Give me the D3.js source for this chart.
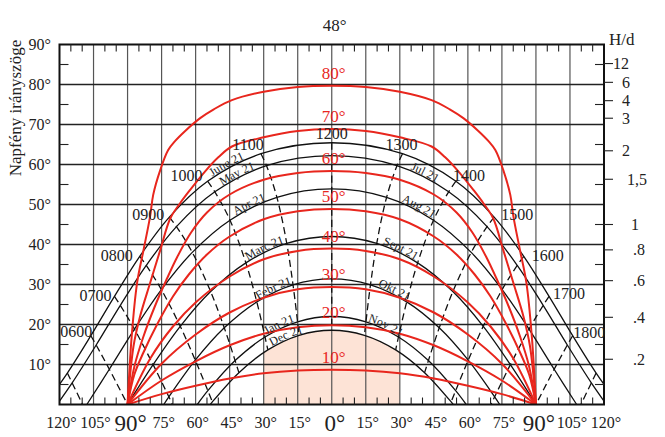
<!DOCTYPE html>
<html><head><meta charset="utf-8">
<script src="https://cdn.jsdelivr.net/npm/d3@7"></script>
<style>
body{margin:0;background:#fff}
svg{display:block}
</style>
</head><body>
<svg id="chart" width="665" height="437" font-family="'Liberation Serif','Times New Roman','DejaVu Serif',serif"></svg>
<script>
// ---------------- DATA ----------------
const latitudeTitle = "48°";
const yAxisTitle = "Napfény irányszöge";
const ratioTitle = "H/d";
const azimuthTicks = [-120,-105,-90,-75,-60,-45,-30,-15,0,15,30,45,60,75,90,105,120];
const azimuthLabels = ["120°","105°","90°","75°","60°","45°","30°","15°","0°","15°","30°","45°","60°","75°","90°","105°","120°"];
const altitudeTicks = [10,20,30,40,50,60,70,80,90];
const altitudeLabels = ["10°","20°","30°","40°","50°","60°","70°","80°","90°"];
const ratioLabels = ["12","6","4","3","2","1,5","1",".8",".6",".4",".2"];
const ratioAltitudes = [85.24,80.54,75.96,71.57,63.43,56.31,45,38.66,30.96,21.80,11.31];

// Sun paths, morning half: [hour, azimuth (east negative), altitude]
const dateNamesAM = ["June 21","May 21","Apr 21","Marc 21","Febr 21","Jan 21","Dec 21"];
const dateNamesPM = ["","Jul 21","Aug 21","Sept 21","Okt 21","Nov 21",""];
const pathJune = [[4.08,-126.48,0],[5,-116.54,7.86],[6,-106.18,17.20],[7,-95.78,27.03],[8,-84.63,37.05],[9,-71.58,46.86],[10,-54.74,55.82],[11,-31.19,62.69],[12,0,65.44]];
const pathMay  = [[4.39,-121.07,0],[5,-114.42,5.40],[6,-103.83,14.87],[7,-93.19,24.78],[8,-81.76,34.79],[9,-68.45,44.48],[10,-51.53,53.17],[11,-28.75,59.69],[12,0,62.20]];
const pathApr  = [[5.10,-107.95,0],[6,-98.03,8.81],[7,-86.96,18.83],[8,-75.10,28.73],[9,-61.47,38.04],[10,-44.85,46.08],[11,-24.17,51.79],[12,0,53.90]];
const pathMar  = [[6,-90,0],[7,-78.74,9.97],[8,-66.78,19.55],[9,-53.38,28.24],[10,-37.85,35.41],[11,-19.83,40.27],[12,0,42.00]];
const pathFeb  = [[6.80,-74.04,0],[7,-71.80,1.92],[8,-60.16,11.08],[9,-47.38,19.17],[10,-33.04,25.65],[11,-17.07,29.91],[12,0,31.40]];
const pathJan  = [[7.59,-59.26,0],[8,-54.61,3.45],[9,-42.60,10.98],[10,-29.41,16.88],[11,-15.07,20.68],[12,0,22.00]];
const pathDec  = [[7.92,-53.52,0],[8,-52.62,0.65],[9,-40.92,7.96],[10,-28.17,13.65],[11,-14.40,17.30],[12,0,18.56]];
const sunPaths = [pathJune,pathMay,pathApr,pathMar,pathFeb,pathJan,pathDec];

// hour lines reach the horizon at: [hour, azimuth]
const hourHorizon = [[5,-109.83],[7,-70.17]];
const hourLines = [5,6,7,8,9,10,11,12,13,14,15,16,17,18,19];
const hourLabels = ["0600","0700","0800","0900","1000","1100","1200","1300","1400","1500","1600","1700","1800"];
const hourLabelHours = [6,7,8,9,10,11,12,13,14,15,16,17,18];

// Red shading-angle curves, left half: [azimuth, altitude]
const shadeNames = ["80°","70°","60°","50°","40°","30°","20°","10°"];
const shade80 = [[0,79.7],[-15,79.4],[-30,78.2],[-44,76.1],[-52,73.8],[-58,71.6],[-64.6,68.4],[-69,65.9],[-72.1,63.6],[-75.6,58.6],[-78.7,52.4],[-80.1,46.9],[-83,38.5],[-85.8,30.4],[-88.2,16.9],[-90,0]];
const shade70 = [[0,68.9],[-15,68.4],[-30,66.8],[-44,64.5],[-50,61.8],[-55.8,58.3],[-62.5,53.6],[-67,50.2],[-71.2,46.5],[-75.6,38.6],[-80.1,30.3],[-84.5,22],[-87.4,14.5],[-90,0]];
const shade60 = [[0,58.4],[-15,57.9],[-30,56.2],[-45,52.5],[-55,48],[-62,43],[-68,37],[-73,31],[-78,24.5],[-83,17],[-87,9.5],[-90,0]];
const shade50 = [[0,48.9],[-15,48.3],[-30,46.3],[-45,42],[-55,37.5],[-63,32.5],[-70,27],[-77,20],[-83,13],[-87,7.5],[-90,0]];
const shade40 = [[0,39.0],[-15,38.4],[-30,36.3],[-45,32],[-60,25.5],[-70,19.5],[-80,11.5],[-90,0]];
const shade30 = [[0,29.4],[-15,28.8],[-30,26.7],[-45,23],[-60,17.5],[-75,10.2],[-90,0]];
const shade20 = [[0,19.8],[-15,19.3],[-30,17.7],[-45,14.8],[-60,10.8],[-75,6],[-90,0]];
const shade10 = [[0,8.7],[-15,8.5],[-30,7.8],[-45,6.5],[-60,4.7],[-75,2.6],[-90,0]];
const shadeCurves = [shade80,shade70,shade60,shade50,shade40,shade30,shade20,shade10];

// shaded window band (azimuth range) under the Dec 21 path
const bandAzimuth = [-30,30];

// ---------------- LAYOUT ----------------
const svg = d3.select("#chart");
const x = d3.scaleLinear().domain([-120,120]).range([59.5,604]);
const y = d3.scaleLinear().domain([0,90]).range([404.5,44.5]);
const X0 = x(-120), X1 = x(120), Y0 = y(0), Y1 = y(90);
const RED = "#e8261d", INK = "#222";

const defs = svg.append("defs");
defs.append("clipPath").attr("id","plot").append("rect")
  .attr("x",X0).attr("y",Y1).attr("width",X1-X0).attr("height",Y0-Y1);
defs.append("clipPath").attr("id","band").append("rect")
  .attr("x",x(bandAzimuth[0])).attr("y",Y1).attr("width",x(bandAzimuth[1])-x(bandAzimuth[0])).attr("height",Y0-Y1);

const smooth = d3.line().x(d=>x(d[0])).y(d=>y(d[1])).curve(d3.curveCatmullRom.alpha(0.5));

function fullPath(p){
  const am = p.map(d=>[d[1],d[2]]);
  const pm = p.slice(0,-1).reverse().map(d=>[-d[1],d[2]]);
  return am.concat(pm);
}
const fullPaths = sunPaths.map(fullPath);

// salmon band
svg.append("g").attr("clip-path","url(#band)")
  .append("path")
  .datum(fullPaths[6])
  .attr("d", d3.area().x(d=>x(d[0])).y0(Y0).y1(d=>y(d[1])).curve(d3.curveCatmullRom.alpha(0.5)))
  .attr("fill","#fde3d6");

// grid
const grid = svg.append("g");
grid.selectAll("line.v").data(azimuthTicks.filter(v=>Math.abs(v)<120)).join("line")
  .attr("x1",d=>x(d)).attr("x2",d=>x(d)).attr("y1",Y1).attr("y2",Y0)
  .attr("stroke","#555").attr("stroke-width",1.2);
grid.selectAll("line.h").data(altitudeTicks.filter(v=>v<90)).join("line")
  .attr("x1",X0).attr("x2",X1).attr("y1",d=>y(d)).attr("y2",d=>y(d))
  .attr("stroke","#222").attr("stroke-width",1.3);

const plot = svg.append("g").attr("clip-path","url(#plot)");

plot.selectAll("path.sun").data(fullPaths).join("path")
  .attr("d",smooth).attr("fill","none").attr("stroke","#111").attr("stroke-width",1.3);

function hourPoints(h){
  const am = h<=12 ? h : 24-h, sign = h<=12 ? 1 : -1;
  const pts = [];
  sunPaths.forEach(p=>{ const q = p.find(d=>d[0]===am); if(q) pts.push([sign*q[1],q[2]]); });
  const hz = hourHorizon.find(d=>d[0]===am);
  if(hz) pts.push([sign*hz[1],0]);
  return pts;
}
plot.selectAll("path.hour").data(hourLines.map(hourPoints)).join("path")
  .attr("d",smooth).attr("fill","none").attr("stroke","#111").attr("stroke-width",1.3)
  .attr("stroke-dasharray","7,4");

const fullShade = shadeCurves.map(c=>c.slice().reverse().concat(c.slice(1).map(d=>[-d[0],d[1]])));
plot.selectAll("path.shade").data(fullShade).join("path")
  .attr("d",smooth).attr("fill","none").attr("stroke",RED).attr("stroke-width",2);

svg.selectAll("text.shade").data(shadeCurves).join("text")
  .attr("x",x(0)+2).attr("y",d=>y(d[0][1])-7)
  .attr("text-anchor","middle").attr("font-size",17).attr("fill",RED)
  .text((d,i)=>shadeNames[i]);

// frame
svg.append("rect").attr("x",X0).attr("y",Y1).attr("width",X1-X0).attr("height",Y0-Y1)
  .attr("fill","none").attr("stroke","#111").attr("stroke-width",2);

// ticks
const minorAz = d3.range(-115,120,5).filter(v=>v%15!==0);
svg.selectAll("line.tb").data(minorAz).join("line")
  .attr("x1",d=>x(d)).attr("x2",d=>x(d)).attr("y1",Y0).attr("y2",Y0-7)
  .attr("stroke",INK).attr("stroke-width",1.1);
svg.selectAll("line.tt").data(minorAz).join("line")
  .attr("x1",d=>x(d)).attr("x2",d=>x(d)).attr("y1",Y1).attr("y2",Y1+7)
  .attr("stroke",INK).attr("stroke-width",1.1);
const minorAlt = d3.range(5,90,10);
svg.selectAll("line.tl").data(minorAlt).join("line")
  .attr("x1",X0).attr("x2",X0+9).attr("y1",d=>y(d)).attr("y2",d=>y(d))
  .attr("stroke",INK).attr("stroke-width",1.1);
svg.selectAll("line.tr").data(minorAlt).join("line")
  .attr("x1",X1-9).attr("x2",X1).attr("y1",d=>y(d)).attr("y2",d=>y(d))
  .attr("stroke",INK).attr("stroke-width",1.1);
svg.selectAll("line.hd").data(ratioAltitudes).join("line")
  .attr("x1",X1).attr("x2",X1+9).attr("y1",d=>y(d)).attr("y2",d=>y(d))
  .attr("stroke",INK).attr("stroke-width",1.1);

// axis labels
const big = d=>Math.abs(d)===90||d===0;
svg.selectAll("text.az").data(azimuthTicks).join("text")
  .attr("x",d=>x(d)+(big(d)?3:2)).attr("y",d=>big(d)?431:428)
  .attr("text-anchor","middle")
  .attr("font-size",d=>big(d)?23:16).attr("fill",INK)
  .text((d,i)=>azimuthLabels[i]);
svg.selectAll("text.alt").data(altitudeTicks).join("text")
  .attr("x",51).attr("y",d=>y(d)+5.5).attr("text-anchor","end")
  .attr("font-size",16).attr("fill",INK)
  .text((d,i)=>altitudeLabels[i]);
const ratioDx = [9,18,18,18,18,23,27,29,29,29,29];
svg.selectAll("text.hd").data(ratioAltitudes).join("text")
  .attr("x",(d,i)=>X1+ratioDx[i]).attr("y",d=>y(d)+5.5)
  .attr("font-size",16).attr("fill",INK)
  .text((d,i)=>ratioLabels[i]);
svg.append("text").attr("x",X1+5).attr("y",45).attr("font-size",17).attr("fill",INK).text(ratioTitle);
svg.append("text").attr("x",x(0)+3).attr("y",31).attr("text-anchor","middle").attr("font-size",17).attr("fill",INK).text(latitudeTitle);
svg.append("text").attr("transform","translate(21,108) rotate(-90)").attr("text-anchor","middle")
  .attr("font-size",17).attr("fill",INK).text(yAxisTitle);

// hour labels next to the June 21 points
const hourLayout = {6:["end",1.5,1.5],7:["end",-3,5],8:["end",-7,5],9:["end",-5,3.4],10:["end",-5,-0.7],11:["middle",-13,-4],
  12:["middle",0,-3.5],13:["middle",-1,-4],14:["start",-3,-0.7],15:["start",7,3.4],16:["start",8,4.2],17:["start",4,3],18:["start",0.5,2.5]};
svg.selectAll("text.hour").data(hourLabelHours).join("text")
  .each(function(h,i){
    const am = h<=12 ? h : 24-h, sign = h<=12 ? 1 : -1;
    const q = pathJune.find(d=>d[0]===am);
    const L = hourLayout[h];
    d3.select(this).attr("x",x(sign*q[1])+L[1]).attr("y",y(q[2])+L[2]).attr("text-anchor",L[0])
      .attr("font-size",16).attr("fill",INK).text(hourLabels[i]);
  });

// date labels along the curves
const dateLabelAzAM = [-45.5,-41,-35.6,-29.0,-25.0,-22.5,-19.5];
const dateLabelAzPM = [0,40.2,37.5,29.6,26.7,23.0,0];
fullPaths.forEach((p,i)=>{
  const node = defs.append("path").attr("id","sp"+i).attr("d",smooth(p)).node();
  const total = node.getTotalLength();
  function lenAt(tx){ let lo=0,hi=total; for(let k=0;k<40;k++){const m=(lo+hi)/2; if(node.getPointAtLength(m).x<tx) lo=m; else hi=m;} return (lo+hi)/2; }
  [[dateNamesAM[i],dateLabelAzAM[i]],[dateNamesPM[i],dateLabelAzPM[i]]].forEach(([name,az])=>{
    if(!name) return;
    svg.append("text").attr("font-size",12).attr("fill",INK).attr("dy",-1)
      .append("textPath").attr("href","#sp"+i).attr("startOffset",lenAt(x(az))).attr("text-anchor","middle").text(name);
  });
});
</script>
</body></html>
